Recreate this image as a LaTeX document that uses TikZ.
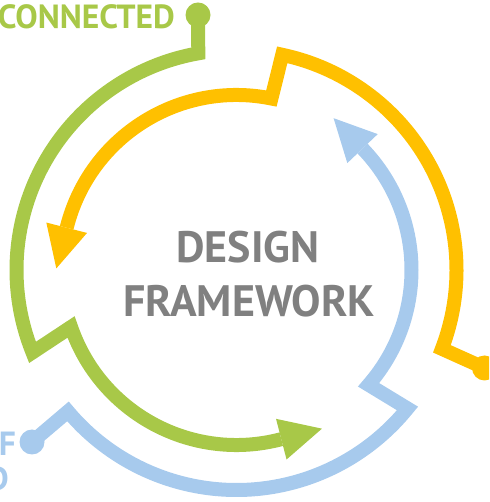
\documentclass[tikz,border=0pt]{standalone}
\usepackage{fontspec}
\setmainfont{PT Sans}
\usetikzlibrary{arrows.meta}
\definecolor{grn}{RGB}{168,200,72}
\definecolor{org}{RGB}{255,192,0}
\definecolor{blu}{RGB}{167,202,237}
\definecolor{txt}{RGB}{128,128,128}
\begin{document}
\begin{tikzpicture}[>={Triangle[length=42pt,width=42pt,line width=0pt]}, x=1pt, y=1pt]
    \useasboundingbox (0,0) rectangle (489,502);
    \clip (0,0) rectangle (489,502);
    \begin{scope}[shift={(236.5,232)}]
    \foreach \col/\dx/\dy/\s/\j/\i/\e in {grn/-38.5/255/100/202/199/284.5, org/248/-98/-21/78/78.5/165.7, blu/-204.5/-172/220/321/319/403.6}
    {
        \fill[\col] (\dx,\dy) circle (12.5);
        \draw[\col, line width=14pt, ->] (\dx,\dy) -- (\s:220) arc[start angle=\s, end angle=\j, radius=220]
            -- (\i:175) arc[start angle=\i, end angle=\e, radius=175] -- ++(\e+90:43);
    }
    \node[txt, font=\fontsize{44}{53}\selectfont\bfseries, anchor=base] (design) at (11.5,7) {DESIGN};
    \node[txt, font=\fontsize{44}{53}\selectfont\bfseries, anchor=base] (framework) at (12.5,-47) {FRAMEWORK};
    \node[grn, font=\fontsize{33.5}{40}\selectfont\bfseries, anchor=base east, inner xsep=0] (connected) at (-61.5,241) {CONNECTED};
    \node[blu, font=\fontsize{33.5}{40}\selectfont\bfseries, anchor=base east, inner xsep=0] (lineone) at (-220.5,-186) {F};
    \node[blu, font=\fontsize{33.5}{40}\selectfont\bfseries, anchor=base east, inner xsep=0] (linetwo) at (-227.5,-220) {D};
    \end{scope}
\end{tikzpicture}
\end{document}
